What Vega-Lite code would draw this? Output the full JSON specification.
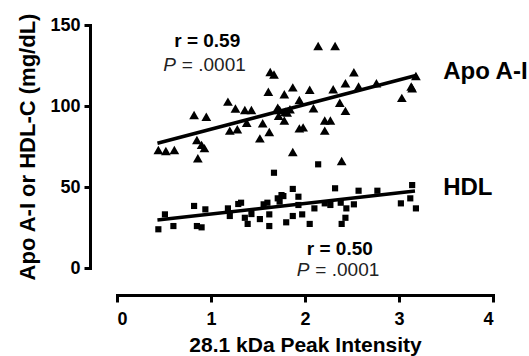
{
  "$schema": "https://vega.github.io/schema/vega-lite/v6.json",
  "width": 376,
  "height": 243,
  "autosize": "none",
  "padding": {"left": 117, "top": 25, "right": 36, "bottom": 88},
  "background": "white",
  "config": {
    "view": {"stroke": null},
    "font": "Liberation Sans",
    "axis": {
      "grid": false,
      "domainColor": "black",
      "domainWidth": 3,
      "tickColor": "black",
      "tickWidth": 3,
      "labelFont": "Liberation Sans",
      "labelFontWeight": "bold",
      "labelFontSize": 18,
      "labelColor": "black",
      "titleFont": "Liberation Sans",
      "titleFontWeight": "bold",
      "titleFontSize": 21,
      "titleColor": "black",
      "domainCap": "square"
    }
  },
  "datasets": {
    "apo": [
      {"x": 0.44, "y": 72.8}, {"x": 0.52, "y": 72.2}, {"x": 0.61, "y": 72.8}, {"x": 0.86, "y": 67.7},
      {"x": 0.82, "y": 94.4}, {"x": 0.95, "y": 93.4}, {"x": 0.85, "y": 79}, {"x": 0.9, "y": 76},
      {"x": 0.93, "y": 74}, {"x": 1.18, "y": 102.7}, {"x": 1.26, "y": 98.5}, {"x": 1.36, "y": 97.5},
      {"x": 1.43, "y": 97.5}, {"x": 1.2, "y": 84.8}, {"x": 1.28, "y": 85.6}, {"x": 1.38, "y": 89.7},
      {"x": 1.55, "y": 89.3}, {"x": 1.62, "y": 84}, {"x": 1.52, "y": 80}, {"x": 1.63, "y": 121},
      {"x": 1.67, "y": 119.5}, {"x": 1.61, "y": 108.8}, {"x": 1.78, "y": 107.2}, {"x": 1.87, "y": 111.5},
      {"x": 1.71, "y": 99}, {"x": 1.73, "y": 97.5}, {"x": 1.79, "y": 96.5}, {"x": 1.81, "y": 96},
      {"x": 1.84, "y": 98}, {"x": 1.72, "y": 94}, {"x": 1.78, "y": 91}, {"x": 1.87, "y": 71.6},
      {"x": 1.94, "y": 103.7}, {"x": 2.14, "y": 137}, {"x": 2.32, "y": 137}, {"x": 2.52, "y": 120.8},
      {"x": 2.05, "y": 110}, {"x": 2.3, "y": 110.3}, {"x": 2.43, "y": 114}, {"x": 2.57, "y": 112},
      {"x": 2.76, "y": 114}, {"x": 3.18, "y": 118.5}, {"x": 3.13, "y": 112}, {"x": 3.14, "y": 110.9},
      {"x": 3.03, "y": 105}, {"x": 2.09, "y": 98.6}, {"x": 2.37, "y": 102}, {"x": 2.43, "y": 97},
      {"x": 1.94, "y": 86.2}, {"x": 1.98, "y": 86.8}, {"x": 2.21, "y": 91}, {"x": 2.27, "y": 91},
      {"x": 2.21, "y": 84.8}, {"x": 2.39, "y": 66}
    ],
    "hdl": [
      {"x": 0.44, "y": 23.9}, {"x": 0.51, "y": 33.1}, {"x": 0.6, "y": 25.9}, {"x": 0.82, "y": 38.3},
      {"x": 0.85, "y": 25.9}, {"x": 0.9, "y": 25.1}, {"x": 0.94, "y": 36.2}, {"x": 1.18, "y": 36.8},
      {"x": 1.2, "y": 32.1}, {"x": 1.29, "y": 39.5}, {"x": 1.32, "y": 40.3}, {"x": 1.36, "y": 31},
      {"x": 1.39, "y": 27.2}, {"x": 1.43, "y": 33.3}, {"x": 1.52, "y": 30.2}, {"x": 1.56, "y": 39.3},
      {"x": 1.6, "y": 40.3}, {"x": 1.62, "y": 33.1}, {"x": 1.62, "y": 25.9}, {"x": 1.67, "y": 58.8},
      {"x": 1.71, "y": 43}, {"x": 1.75, "y": 45}, {"x": 1.77, "y": 44.4}, {"x": 1.73, "y": 41},
      {"x": 1.87, "y": 48.8}, {"x": 1.87, "y": 32.1}, {"x": 1.8, "y": 28.2}, {"x": 1.93, "y": 44},
      {"x": 1.93, "y": 38.9}, {"x": 2.14, "y": 64}, {"x": 2.1, "y": 36.8}, {"x": 2.21, "y": 39.9},
      {"x": 2.27, "y": 38.9}, {"x": 2.32, "y": 49.2}, {"x": 2.38, "y": 40.3}, {"x": 2.44, "y": 36.8},
      {"x": 2.52, "y": 39.3}, {"x": 2.57, "y": 47.7}, {"x": 2.77, "y": 47.7}, {"x": 3.14, "y": 51.2},
      {"x": 3.02, "y": 39.9}, {"x": 3.12, "y": 43}, {"x": 3.18, "y": 36.8}, {"x": 1.97, "y": 33.1},
      {"x": 2.05, "y": 27.2}, {"x": 2.39, "y": 27.2}, {"x": 2.43, "y": 31}
    ],
    "fits": [
      {"series": "Apo A-I", "x": 0.43, "y": 77}, {"series": "Apo A-I", "x": 3.19, "y": 119},
      {"series": "HDL", "x": 0.43, "y": 29.6}, {"series": "HDL", "x": 3.17, "y": 47.5}
    ],
    "seriesLabels": [
      {"text": "Apo A-I", "x": 3.47, "y": 121},
      {"text": "HDL", "x": 3.47, "y": 49.4}
    ],
    "rLabels": [
      {"text": "r = 0.59", "x": 0.96, "y": 140.3},
      {"text": "r = 0.50", "x": 2.37, "y": 11.7}
    ],
    "pLetters": [
      {"text": "P", "x": 0.56, "y": 125.3},
      {"text": "P", "x": 1.98, "y": -1.2}
    ],
    "pValues": [
      {"text": "= .0001", "x": 0.69, "y": 125.3},
      {"text": "= .0001", "x": 2.11, "y": -1.2}
    ]
  },
  "encoding": {
    "x": {
      "field": "x", "type": "quantitative",
      "scale": {"domain": [0, 4], "nice": false, "zero": false},
      "axis": {"values": [0, 1, 2, 3, 4], "offset": 27, "tickSize": 7, "labelPadding": 8, "title": "28.1 kDa Peak Intensity", "titlePadding": 6}
    },
    "y": {
      "field": "y", "type": "quantitative",
      "scale": {"domain": [0, 150], "nice": false, "zero": false},
      "axis": {"values": [0, 50, 100, 150], "offset": 27, "tickSize": 6, "labelPadding": 4, "title": "Apo A-I or HDL-C (mg/dL)", "titlePadding": 10, "titleFontSize": 22}
    }
  },
  "layer": [
    {"data": {"name": "apo"}, "mark": {"type": "point", "shape": "triangle-up", "filled": true, "color": "black", "opacity": 1, "size": 95}},
    {"data": {"name": "hdl"}, "mark": {"type": "point", "shape": "square", "filled": true, "color": "black", "opacity": 1, "size": 38}},
    {"data": {"name": "fits"}, "mark": {"type": "line", "color": "black", "strokeWidth": 3.5}, "encoding": {"detail": {"field": "series"}}},
    {"data": {"name": "seriesLabels"}, "mark": {"type": "text", "align": "left", "baseline": "middle", "fontSize": 24, "fontWeight": "bold", "color": "black"}, "encoding": {"text": {"field": "text"}}},
    {"data": {"name": "rLabels"}, "mark": {"type": "text", "align": "center", "baseline": "middle", "fontSize": 19, "fontWeight": "bold", "color": "black"}, "encoding": {"text": {"field": "text"}}},
    {"data": {"name": "pLetters"}, "mark": {"type": "text", "align": "center", "baseline": "middle", "fontSize": 19, "fontStyle": "italic", "color": "#222"}, "encoding": {"text": {"field": "text"}}},
    {"data": {"name": "pValues"}, "mark": {"type": "text", "align": "left", "baseline": "middle", "fontSize": 19, "color": "#222"}, "encoding": {"text": {"field": "text"}}}
  ]
}
